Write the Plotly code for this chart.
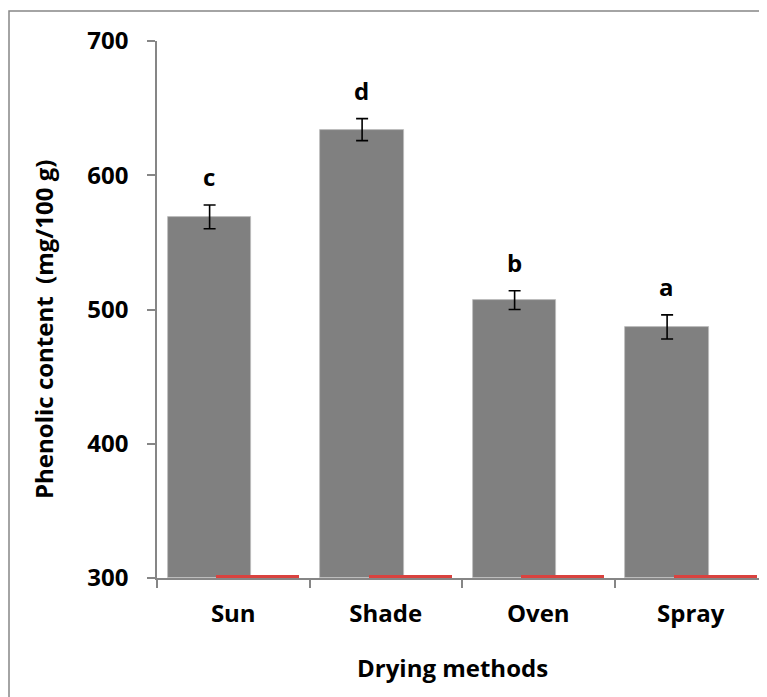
import plotly.graph_objects as go

categories = ["Sun", "Shade", "Oven", "Spray"]
phenolic_values = [569, 634, 507, 487]
phenolic_errors = [8.8, 8.2, 7.0, 9.0]
group_letters = ["c", "d", "b", "a"]
baseline_series = [2, 2, 2, 2]   # second (near-zero) series drawn at the axis floor

y_min, y_max = 300, 700
y_ticks = [300, 400, 500, 600, 700]

FONT = "Open Sans"
AXIS_GREY = "#868686"

# page offset of the figure (browser body margin)
OFF = 8
PLOT_L, PLOT_R, PLOT_T, PLOT_B = 157, 767, 41, 578
PW, PH = PLOT_R - PLOT_L, PLOT_B - PLOT_T


def px(x):
    return (x - PLOT_L) / PW


def py(y):
    return (PLOT_B - y) / PH


fig = go.Figure()

fig.add_trace(go.Bar(
    x=categories, y=[v - y_min for v in phenolic_values], base=y_min,
    width=0.546, offset=-0.428,
    marker=dict(color="#808080", line=dict(color="#bdbdbd", width=0.8)),
    error_y=dict(type="data", array=phenolic_errors, color="black",
                 thickness=1.6, width=6),
    showlegend=False, hoverinfo="skip",
))

fig.add_trace(go.Bar(
    x=categories, y=baseline_series, base=y_min,
    width=0.546, offset=-0.113,
    marker=dict(color="#d9423f", line=dict(width=0)),
    showlegend=False, hoverinfo="skip",
))

for cat, v, e, lab in zip(categories, phenolic_values, phenolic_errors, group_letters):
    fig.add_annotation(
        x=cat, y=v + e, xref="x", yref="y", text=lab, showarrow=False,
        yanchor="bottom", xanchor="center", xshift=-24, yshift=10,
        font=dict(family=FONT, size=24, color="black", weight="bold"),
    )

# axis titles
fig.add_annotation(
    x=px(43), y=py(330), xref="paper", yref="paper",
    text="Phenolic content\u00a0\u00a0(mg/100\u00a0g)", textangle=-90, showarrow=False,
    xanchor="center", yanchor="middle",
    font=dict(family=FONT, size=24, color="black", weight="bold"),
)
fig.add_annotation(
    x=px(452), y=py(667), xref="paper", yref="paper",
    text="Drying methods", showarrow=False, xanchor="center", yanchor="middle",
    font=dict(family=FONT, size=24, color="black", weight="bold"),
)

# outer chart border
fig.add_shape(
    type="rect", xref="paper", yref="paper",
    x0=px(9), x1=1.2, y0=-0.5, y1=py(11),
    line=dict(color=AXIS_GREY, width=1.5), fillcolor="rgba(0,0,0,0)", layer="below",
)

fig.update_layout(
    width=767 - OFF, height=697 - OFF,
    margin=dict(l=PLOT_L - OFF, r=0, t=PLOT_T - OFF, b=697 - PLOT_B, pad=0),
    paper_bgcolor="white", plot_bgcolor="white",
    barmode="overlay", bargap=0,
    font=dict(family=FONT, color="black"),
    xaxis=dict(
        type="category", categoryorder="array", categoryarray=categories,
        showline=True, linecolor=AXIS_GREY, linewidth=1.5,
        ticks="outside", tickson="boundaries", ticklen=8, tickcolor=AXIS_GREY, tickwidth=1.5,
        tickfont=dict(family=FONT, size=24, color="black", weight="bold"),
        ticklabelstandoff=13, showgrid=False, zeroline=False,
        range=[-0.5, 3.5],
    ),
    yaxis=dict(
        range=[y_min, y_max], tickvals=y_ticks,
        showline=True, linecolor=AXIS_GREY, linewidth=1.5,
        ticks="outside", ticklen=8, tickcolor=AXIS_GREY, tickwidth=1.5,
        tickfont=dict(family=FONT, size=24, color="black", weight="bold"),
        ticklabelstandoff=14, showgrid=False, zeroline=False,
    ),
)

fig.write_html("out.html")
